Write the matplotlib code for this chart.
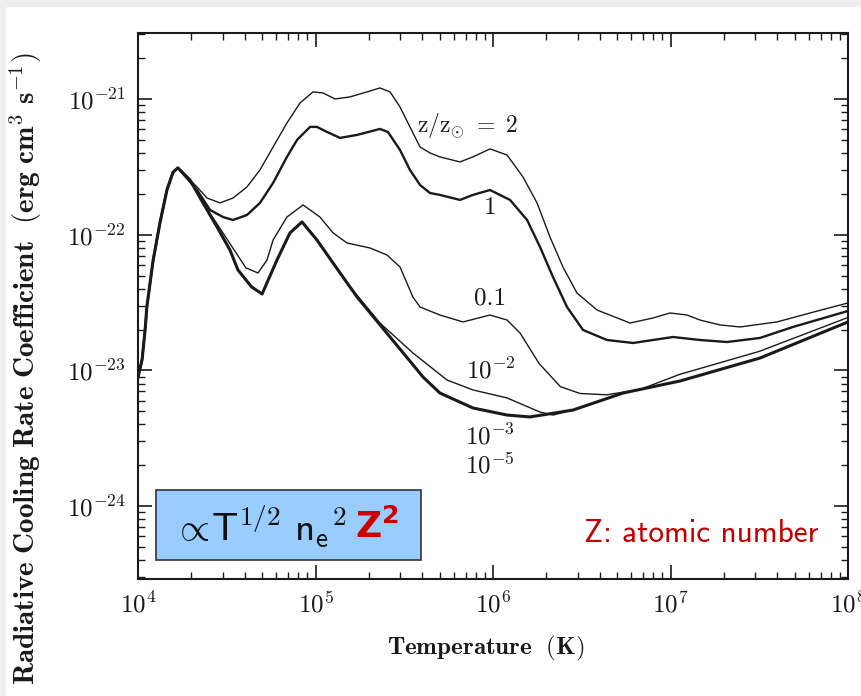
import matplotlib
matplotlib.use("Agg")
import matplotlib.pyplot as plt
import numpy as np
from matplotlib.patches import Rectangle
from matplotlib.ticker import LogLocator, FixedLocator, NullFormatter

plt.rcParams['mathtext.fontset'] = 'cm'
plt.rcParams['font.family'] = ['cmr10', 'DejaVu Serif']
plt.rcParams['axes.unicode_minus'] = False

# curves, log10(T) / log10(Lambda)
rise_T = [4.0, 4.023, 4.04, 4.05, 4.085, 4.124, 4.163, 4.197, 4.225]
rise_L = [-23.05, -22.92, -22.70, -22.53, -22.19, -21.91, -21.67, -21.54, -21.508]

logT_z2 = rise_T + [4.332, 4.389, 4.462, 4.535, 4.614, 4.687, 4.761, 4.839, 4.913, 4.986, 5.042, 5.110,
                    5.194, 5.290, 5.363, 5.420, 5.476, 5.532, 5.589, 5.645, 5.701, 5.814, 5.887, 5.983,
                    6.079, 6.169, 6.248, 6.321, 6.394, 6.473, 6.586, 6.772, 6.901, 6.997, 7.093, 7.166,
                    7.279, 7.392, 7.600, 7.786, 8.0]
logL_z2 = rise_L + [-21.648, -21.730, -21.766, -21.730, -21.648, -21.523, -21.354, -21.177, -21.029,
                    -20.948, -20.956, -21.0, -20.985, -20.948, -20.919, -20.948, -21.059, -21.206,
                    -21.354, -21.398, -21.427, -21.464, -21.427, -21.368, -21.413, -21.575, -21.766,
                    -22.017, -22.238, -22.430, -22.555, -22.651, -22.614, -22.577, -22.592, -22.629,
                    -22.665, -22.680, -22.643, -22.577, -22.503]

logT_z1 = rise_T + [4.332, 4.406, 4.479, 4.535, 4.614, 4.687, 4.761, 4.839, 4.896, 4.969, 5.008, 5.065,
                    5.138, 5.234, 5.363, 5.408, 5.476, 5.532, 5.589, 5.645, 5.701, 5.814, 5.887, 5.983,
                    6.096, 6.192, 6.265, 6.338, 6.417, 6.507, 6.642, 6.789, 6.901, 7.014, 7.166, 7.318,
                    7.504, 7.690, 8.0]
logL_z1 = rise_L + [-21.67, -21.818, -21.870, -21.892, -21.855, -21.766, -21.619, -21.427, -21.302,
                    -21.206, -21.206, -21.243, -21.287, -21.265, -21.221, -21.243, -21.376, -21.523,
                    -21.634, -21.693, -21.707, -21.744, -21.707, -21.671, -21.744, -21.892, -22.091,
                    -22.312, -22.533, -22.702, -22.776, -22.798, -22.776, -22.754, -22.776, -22.791,
                    -22.761, -22.680, -22.562]

logT_z01 = rise_T + [4.293, 4.366, 4.450, 4.530, 4.608, 4.676, 4.727, 4.761, 4.839, 4.930, 5.025, 5.099,
                     5.177, 5.307, 5.403, 5.476, 5.549, 5.589, 5.701, 5.831, 5.983, 6.079, 6.152, 6.26,
                     6.38, 6.49, 6.64, 6.83, 7.05, 7.50, 8.0]
logL_z01 = rise_L + [-21.597, -21.766, -21.930, -22.090, -22.245, -22.282, -22.186, -22.039, -21.870,
                     -21.781, -21.870, -21.987, -22.061, -22.098, -22.150, -22.238, -22.46, -22.533,
                     -22.592, -22.643, -22.592, -22.629, -22.724, -22.95, -23.12, -23.17, -23.18,
                     -23.14, -23.03, -22.86, -22.61]

logT_z2m = rise_T + [4.293, 4.366, 4.445, 4.518, 4.563, 4.640, 4.699, 4.783, 4.856, 4.924, 5.008, 5.099,
                     5.177, 5.363, 5.549, 5.741, 5.887, 6.079, 6.265, 6.338, 6.451, 6.732, 7.054, 7.504,
                     8.0]
logL_z2m = rise_L + [-21.597, -21.766, -21.943, -22.113, -22.260, -22.385, -22.437, -22.186, -21.987,
                     -21.906, -22.039, -22.209, -22.356, -22.651, -22.872, -23.071, -23.144, -23.203,
                     -23.307, -23.329, -23.292, -23.167, -23.078, -22.909, -22.643]

logT_z3 = rise_T + [4.293, 4.366, 4.445, 4.518, 4.563, 4.640, 4.699, 4.783, 4.856, 4.924, 5.008, 5.099,
                    5.234, 5.420, 5.606, 5.701, 5.887, 6.079, 6.208, 6.451, 6.732, 7.054, 7.504, 8.0]
logL_z3 = rise_L + [-21.597, -21.766, -21.943, -22.113, -22.260, -22.385, -22.437, -22.186, -21.987,
                    -21.906, -22.039, -22.209, -22.459, -22.754, -23.049, -23.167, -23.277, -23.329,
                    -23.343, -23.292, -23.167, -23.078, -22.909, -22.643]

curve_labels = [r'$\mathrm{z/z_{\odot}\ =\ 2}$', '1', '0.1', r'$10^{-2}$', r'$10^{-3}$', r'$10^{-5}$']
label_T = [3.73e5, 9.6e5, 9.6e5, 9.7e5, 9.6e5, 9.6e5]
label_L = [6.4e-22, 1.57e-22, 3.41e-23, 1.0e-23, 3.24e-24, 2.0e-24]

xticks = [1e4, 1e5, 1e6, 1e7, 1e8]
xtick_labels = [r'$10^4$', r'$10^5$', r'$10^6$', r'$10^7$', r'$10^8$']
yticks = [1e-24, 1e-23, 1e-22, 1e-21]
ytick_labels = [r'$10^{-24}$', r'$10^{-23}$', r'$10^{-22}$', r'$10^{-21}$']

fig = plt.figure(figsize=(8.61, 6.96), dpi=100)
fig.patch.set_facecolor('white')
# light grey frame strip from the slide
fig.patches.append(Rectangle((0, 0.991), 1, 0.009, transform=fig.transFigure, color='#eeeeee', zorder=0))
fig.patches.append(Rectangle((0, 0), 0.006, 1, transform=fig.transFigure, color='#eeeeee', zorder=0))

ax = fig.add_axes([0.1603, 0.1681, 0.8246, 0.7845])
ax.set_xscale('log')
ax.set_yscale('log')

ink = '#1a1a1a'
ax.plot(10 ** np.array(logT_z2), 10 ** np.array(logL_z2), color=ink, lw=1.0)
ax.plot(10 ** np.array(logT_z1), 10 ** np.array(logL_z1), color=ink, lw=1.7)
ax.plot(10 ** np.array(logT_z01), 10 ** np.array(logL_z01), color=ink, lw=1.0)
ax.plot(10 ** np.array(logT_z2m), 10 ** np.array(logL_z2m), color=ink, lw=1.0)
ax.plot(10 ** np.array(logT_z3), 10 ** np.array(logL_z3), color=ink, lw=2.2)

for i, (lab, tx, ly) in enumerate(zip(curve_labels, label_T, label_L)):
    ax.text(tx, ly, lab, fontsize=17 if i == 0 else 18, ha='left' if i == 0 else 'center',
            va='center', color=ink)

ax.set_xlim(1e4, 1e8)
ax.set_ylim(10 ** -24.537, 10 ** -20.514)
ax.xaxis.set_major_locator(FixedLocator(xticks))
ax.set_xticklabels(xtick_labels, fontsize=18, color=ink)
ax.yaxis.set_major_locator(FixedLocator(yticks))
ax.set_yticklabels(ytick_labels, fontsize=18, color=ink)
ax.xaxis.set_minor_locator(LogLocator(base=10, subs=np.arange(2, 10), numticks=20))
ax.yaxis.set_minor_locator(LogLocator(base=10, subs=np.arange(2, 10), numticks=20))
ax.xaxis.set_minor_formatter(NullFormatter())
ax.yaxis.set_minor_formatter(NullFormatter())
ax.tick_params(which='major', direction='in', length=10, width=1.2, top=True, right=True, pad=9, colors=ink)
ax.tick_params(which='minor', direction='in', length=5, width=1.0, top=True, right=True, colors=ink)
for s in ax.spines.values():
    s.set_linewidth(1.5)
    s.set_color(ink)

ax.set_xlabel(r'$\mathbf{Temperature\ \ (K)}$', fontsize=18, color=ink)
ax.set_ylabel(r'$\mathbf{Radiative\ Cooling\ Rate\ Coefficient\ \ (erg\ cm^3\ s^{-1})}$',
              fontsize=21, color=ink)
ax.xaxis.set_label_coords(0.490, -0.100)
ax.yaxis.set_label_coords(-0.132, 0.385)

# slide annotations
box = Rectangle((156 / 861, 1 - 560 / 696), 265 / 861, 70 / 696, transform=fig.transFigure,
                facecolor='#99ccff', edgecolor='#333333', lw=1.2, zorder=5)
fig.patches.append(box)
fig.text(173 / 861, 1 - 527 / 696, r'$\propto\!\mathsf{T}^{\mathsf{1/2}}\ \mathsf{n_e}^{\mathsf{2}}$',
         fontsize=28, va='center', ha='left', color='#111111', zorder=6)
fig.text(355 / 861, 1 - 527 / 696, r'$\mathbf{Z}^{\mathbf{2}}$', fontsize=26, va='center', ha='left',
         color='#cc0000', math_fontfamily='dejavusans', zorder=6)
fig.text(584 / 861, 1 - 533 / 696, 'Z: atomic number', fontsize=22.5, va='center', ha='left',
         color='#c00000', family='cmss10')

fig.savefig('out.png', dpi=100)
